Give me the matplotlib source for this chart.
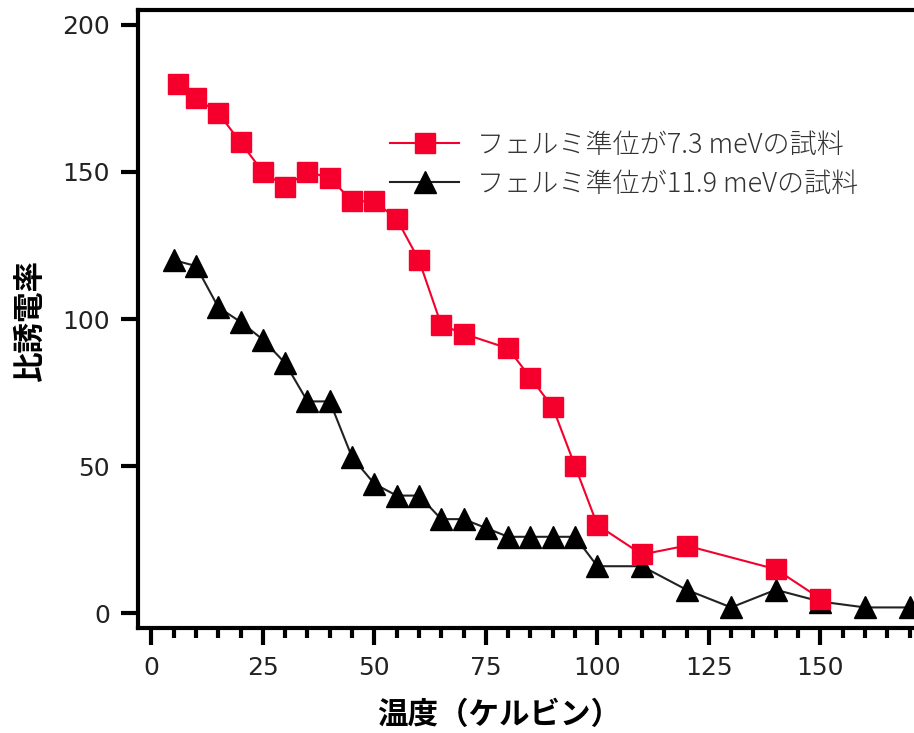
import matplotlib
matplotlib.use("Agg")
import matplotlib.pyplot as plt
from matplotlib.ticker import MultipleLocator

plt.rcParams['font.family'] = ['Noto Sans CJK JP', 'DejaVu Sans']

# Data
red_x = [6, 10, 15, 20, 25, 30, 35, 40, 45, 50, 55, 60, 65, 70, 80, 85, 90, 95, 100, 110, 120, 140, 150]
red_y = [180, 175, 170, 160, 150, 145, 150, 148, 140, 140, 134, 120, 98, 95, 90, 80, 70, 50, 30, 20, 23, 15, 5]
blk_x = [5, 10, 15, 20, 25, 30, 35, 40, 45, 50, 55, 60, 65, 70, 75, 80, 85, 90, 95, 100, 110, 120, 130, 140, 150, 160, 170]
blk_y = [120, 118, 104, 99, 93, 85, 72, 72, 53, 44, 40, 40, 32, 32, 29, 26, 26, 26, 26, 16, 16, 8, 2, 8, 4, 2, 2]
red_label = "フェルミ準位が7.3 meVの試料"
blk_label = "フェルミ準位が11.9 meVの試料"
x_label = "温度（ケルビン）"
y_label = "比誘電率"

fig = plt.figure(figsize=(9.14, 7.33), dpi=100)
ax = fig.add_axes([0.151, 0.1432, 0.849, 0.8432])

ax.plot(red_x, red_y, color='#f5002d', lw=1.5, marker='s', markersize=14.5,
        markeredgecolor='#f5002d', markerfacecolor='#f5002d', label=red_label, zorder=3)
ax.plot(blk_x, blk_y, color='#222222', lw=1.5, marker='^', markersize=15.5,
        markeredgecolor='black', markerfacecolor='black', label=blk_label, zorder=2)

ax.set_xlim(-3, 171)
ax.set_ylim(-5, 205)
ax.xaxis.set_major_locator(MultipleLocator(25))
ax.xaxis.set_minor_locator(MultipleLocator(5))
ax.yaxis.set_major_locator(MultipleLocator(50))

for s in ['left', 'bottom', 'top']:
    ax.spines[s].set_linewidth(3)
ax.spines['right'].set_visible(False)

ax.tick_params(axis='both', which='major', direction='out', length=12, width=3,
               labelsize=18, pad=8, colors='black')
ax.tick_params(axis='x', which='minor', direction='out', length=7, width=3)
ax.tick_params(axis='y', which='minor', left=False)
ax.tick_params(top=False, right=False)
for lab in ax.get_xticklabels() + ax.get_yticklabels():
    lab.set_family('DejaVu Sans')
    lab.set_color('#222222')

ax.set_xlabel(x_label, fontsize=22, fontweight='bold', va='center')
ax.set_ylabel(y_label, fontsize=22, fontweight='bold', va='center')
ax.xaxis.set_label_coords(0.466, -0.14)
ax.yaxis.set_label_coords(-0.139, 0.498)

leg = ax.legend(loc='upper left', bbox_to_anchor=(0.427, 0.822), bbox_transform=fig.transFigure,
                frameon=False, fontsize=19.5, handlelength=2.55, handletextpad=0.65,
                labelspacing=0.42, borderpad=0, borderaxespad=0)
for t in leg.get_texts():
    t.set_color('#333333')
    t.set_fontweight('light')

fig.savefig('out.png', dpi=100)
